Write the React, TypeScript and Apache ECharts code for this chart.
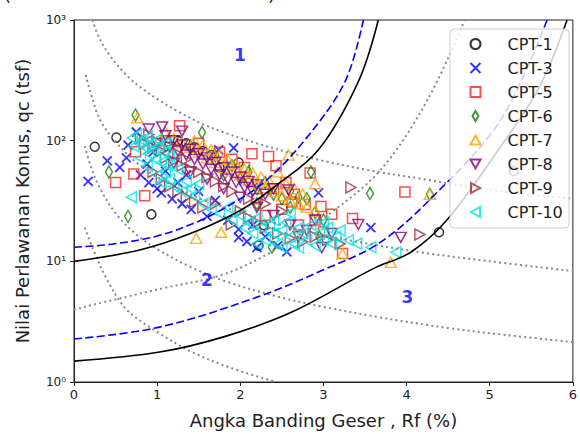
import React, { useEffect, useRef } from 'react';
import * as echarts from 'echarts';

const FONT = 'DejaVu Sans';

const seriesNames = ['CPT-1', 'CPT-3', 'CPT-5', 'CPT-6', 'CPT-7', 'CPT-8', 'CPT-9', 'CPT-10'];
const seriesColors = ['#000000', '#0000ff', '#ff2020', '#108010', '#ffa500', '#800080', '#a0283c', '#00e5e5'];

const xTicks = [0, 1, 2, 3, 4, 5, 6];
const yTickLabels = ['10⁰', '10¹', '10²', '10³'];

// [Rf (%), qc (tsf)]
const cpt1 = [[0.25,89],[0.51,106],[0.93,24.5],[1.35,95],[1.45,88],[1.55,82],[1.65,76],[1.98,66],[1.25,100],[2.28,20],[2.22,13.5],[4.39,17.4],[5.29,56],[1.75,60],[2.1,45]];
const cpt3 = [[0.17,46],[0.4,68],[0.55,60],[0.63,72],[0.65,92],[0.75,118],[0.8,52],[0.88,64],[0.9,45],[0.95,80],[1.0,40],[1.05,37],[1.1,56],[1.18,33],[1.25,45],[1.3,30],[1.35,52],[1.41,27],[1.5,38],[1.6,23.6],[1.7,32],[1.74,84],[1.92,87],[1.98,18.4],[1.98,15.8],[2.08,14.6],[2.15,20],[2.3,16],[2.45,13.5],[2.56,12],[2.94,37],[3.57,19],[1.85,22],[2.2,13]];
const cpt5 = [[0.5,45],[0.72,53],[0.74,81],[0.85,35],[1.27,133],[1.1,100],[1.5,95],[1.75,80],[2.14,78],[2.34,74],[2.43,62],[2.84,54],[2.78,29.6],[2.62,31],[2.97,28.5],[3.1,24.5],[3.35,22.6],[3.98,37.5],[3.23,11.6],[2.5,27],[2.2,33],[2.7,20],[3.0,17.5],[2.4,40],[2.55,45],[2.65,36],[2.9,22],[1.9,70],[2.05,60],[2.3,24]];
const cpt6 = [[0.74,163],[1.54,117],[0.42,55],[0.65,23.6],[1.4,90],[1.7,75],[1.9,62],[2.0,48],[2.1,55],[2.2,40],[2.3,45],[2.4,36],[2.5,33],[2.6,38],[2.7,34],[2.8,33],[2.85,55],[2.9,25.4],[3.0,22],[2.38,13.1],[3.56,36.5],[4.28,36],[2.2,30],[2.6,28],[1.8,52],[2.95,16]];
const cpt7 = [[0.76,155],[1.1,118],[1.2,104],[1.3,96],[1.4,88],[1.45,100],[1.5,80],[1.55,92],[1.6,72],[1.65,84],[1.7,66],[1.75,76],[1.8,60],[1.85,70],[1.9,56],[1.95,64],[2.0,52],[2.05,58],[2.1,47],[2.15,54],[2.2,44],[2.25,50],[2.3,41],[2.35,46],[2.4,38],[2.45,55],[2.5,35],[2.55,44],[2.58,76],[2.6,32],[2.65,40],[2.7,30],[2.75,36],[2.8,28],[2.9,26],[1.47,15.5],[1.77,17.4],[3.23,11.6],[3.81,9.8],[4.28,36],[2.9,44]];
const cpt8 = [[1.06,130],[1.0,95],[1.1,110],[1.15,88],[1.2,100],[1.25,82],[1.3,92],[1.35,76],[1.4,85],[1.45,70],[1.5,78],[1.55,64],[1.6,72],[1.65,58],[1.7,66],[1.75,52],[1.8,60],[1.85,48],[1.9,55],[1.95,45],[2.0,50],[2.05,41],[2.1,46],[2.15,38],[2.2,43],[2.3,36],[2.4,40],[2.58,39],[1.2,65],[1.4,55],[1.6,48],[1.8,40],[2.0,34],[2.2,28],[2.4,24],[2.6,20],[2.8,18],[2.98,13],[3.1,17],[3.42,20.2],[3.93,15.8],[0.9,125],[1.3,120],[2.7,16],[2.9,22]];
const cpt9 = [[0.8,105],[0.85,95],[0.9,112],[0.95,88],[1.0,98],[1.05,82],[1.1,72],[1.15,90],[1.2,68],[1.25,78],[1.3,62],[1.35,70],[1.4,58],[1.5,55],[1.6,50],[1.7,46],[1.8,42],[0.95,55],[1.05,48],[1.15,42],[1.25,38],[1.35,34],[1.45,31],[1.55,28],[1.7,30],[1.89,20.2],[2.0,26],[2.1,23],[2.2,21],[2.3,19],[2.45,17],[2.6,15.5],[2.75,14.5],[2.9,16],[3.05,15],[3.2,14],[3.33,41],[4.16,16.7],[1.9,38],[2.1,33],[2.3,30],[2.5,26]];
const cpt10 = [[0.70,105],[0.75,112],[0.78,95],[0.82,100],[0.85,88],[0.88,108],[0.9,78],[0.92,95],[0.95,85],[0.98,70],[1.0,102],[1.02,90],[1.05,66],[1.08,80],[1.1,95],[1.12,62],[1.15,75],[0.8,72],[0.88,62],[0.72,90],[1.0,52],[1.05,45],[1.1,55],[1.15,48],[1.2,42],[1.25,58],[1.3,38],[1.35,46],[1.4,40],[1.45,35],[1.5,44],[0.69,34],[1.55,30],[1.65,27],[1.75,25],[1.85,28],[1.9,22],[2.0,24],[2.05,19],[2.1,21],[2.15,17],[2.2,23],[2.25,19],[2.3,15],[2.35,20],[2.4,17],[2.45,14],[2.5,18],[2.55,21],[2.6,16],[2.65,14],[2.7,19],[2.75,17],[2.8,15],[2.85,20],[2.9,13.5],[2.95,17],[3.0,15],[3.05,19],[3.1,14],[3.15,16],[3.2,18],[3.3,15],[3.4,14],[3.57,13.1],[3.87,11.9],[2.4,22],[2.6,25],[2.2,14],[2.5,13],[2.7,13],[3.0,21]];

const seriesData = [cpt1, cpt3, cpt5, cpt6, cpt7, cpt8, cpt9, cpt10];

// Zone boundaries
const upperSolid = [[0,10],[0.79,12.4],[1.43,17.3],[2.02,26.9],[2.42,41.9],[2.94,84],[3.42,309],[3.66,1000]];
const upperDashed = [[0,13.1],[0.43,13.8],[1.0,16.2],[1.5,21.5],[1.9,30],[2.3,46],[2.78,102],[3.26,309],[3.48,1000]];
const lowerSolid = [[0,1.49],[1.03,1.77],[1.83,2.4],[2.62,3.8],[3.6,8.7],[4.05,11.9],[4.49,22.2],[5.13,89],[5.6,280],[5.93,1000]];
const lowerDashed = [[0,2.27],[1.03,2.85],[2.22,5.1],[3.0,8.5],[3.66,14],[4.29,33],[5.13,148],[5.69,1000]];

// Dotted guide curves
const dotA = [[0.22,1000],[0.3,720],[0.43,510],[0.63,350],[0.82,270],[1.03,215],[1.25,175],[1.54,138],[1.82,116],[2.2,95],[2.58,80],[3.0,68],[3.54,57],[4.2,48],[5.0,39],[6.0,33]];
const dotB = [[0.14,350],[0.2,250],[0.31,150],[0.5,98],[0.75,66],[1.0,50],[1.5,33.5],[2.0,25.5],[2.5,20],[3.0,16.5],[3.54,14],[4.2,11.8],[5.0,10],[6.0,8.3]];
const dotE = [[0.13,90],[0.2,62],[0.3,42],[0.5,25],[0.75,16.7],[1.0,12.6],[1.4,9],[1.83,6.8],[2.5,5],[3.0,4.2],[3.66,3.45],[4.5,2.8],[5.2,2.45],[6.0,2.14]];
const dotF = [[0.13,19],[0.23,12.6],[0.4,7],[0.63,4.0],[1.0,2.6],[1.42,1.77],[1.9,1.3],[2.43,1.0]];
const dotC = [[0,4],[1.03,5.9],[1.8,7.8],[2.43,12.6],[3.06,24.4],[3.69,57.6],[4.25,217],[4.7,1000]];

const zoneLabels = ['1', '2', '3'];
const zoneLabelPos = [[1.995, 514], [1.6, 7.0], [4.01, 5.1]];

const X_PATH = 'path://M0,0L10,10M0,10L10,0';
const THIN_DIAMOND = 'path://M3,0L6,5L3,10L0,5Z';
const TRI_UP = 'path://M5,0L10,9L0,9Z';
const TRI_DOWN = 'path://M0,0L10,0L5,9Z';
const TRI_RIGHT = 'path://M0,0L9,5L0,10Z';
const TRI_LEFT = 'path://M9,0L0,5L9,10Z';
const symbols = ['circle', X_PATH, 'rect', THIN_DIAMOND, TRI_UP, TRI_DOWN, TRI_RIGHT, TRI_LEFT];
const symbolSizes: any[] = [9, 9, 10, [7, 12], [11, 10], [11, 10], [10, 11], [10, 11]];

function mkLine(data: number[][], color: string, type: any, width: number) {
  return {
    type: 'line',
    data,
    symbol: 'none',
    showSymbol: false,
    smooth: 0.35,
    silent: true,
    z: 3,
    legendHoverLink: false,
    lineStyle: { color, type, width },
  };
}

export default function App() {
  const ref = useRef<HTMLDivElement>(null);
  useEffect(() => {
    document.body.style.margin = '0';
    const chart = echarts.init(ref.current!, null, { renderer: 'svg' });
    const scatterSeries = seriesNames.map((name, i) => ({
      type: 'scatter',
      name,
      data: seriesData[i],
      symbol: symbols[i],
      symbolSize: symbolSizes[i],
      z: 2,
      itemStyle: { color: 'none', borderColor: seriesColors[i], borderWidth: i === 1 ? 1.8 : 1.5 },
    }));
    const dotted = [2, 3.2];
    const option: any = {
      animation: false,
      grid: { left: 74, right: 4, top: 20, bottom: 51, show: true, borderColor: '#222', borderWidth: 1, backgroundColor: '#fff' },
      xAxis: {
        type: 'value', min: 0, max: 6, interval: 1,
        name: 'Angka Banding Geser , Rf (%)', nameLocation: 'middle', nameGap: 29,
        nameTextStyle: { fontFamily: FONT, fontSize: 18, color: '#222' },
        axisLine: { show: true, lineStyle: { color: '#222', width: 1 } },
        axisTick: { show: true, inside: false, length: 4, lineStyle: { color: '#222' } },
        axisLabel: { fontFamily: FONT, fontSize: 13, color: '#222', margin: 6, formatter: (v: number) => String(xTicks[Math.round(v)] ?? v) },
        splitLine: { show: false },
      },
      yAxis: {
        type: 'log', logBase: 10, min: 1, max: 1000,
        name: 'Nilai Perlawanan Konus, qc (tsf)', nameLocation: 'middle', nameGap: 43,
        nameTextStyle: { fontFamily: FONT, fontSize: 18, color: '#222' },
        axisLine: { show: true, lineStyle: { color: '#222', width: 1 } },
        axisTick: { show: true, inside: false, length: 4, lineStyle: { color: '#222' } },
        axisLabel: { fontFamily: FONT, fontSize: 12, color: '#222', margin: 8, formatter: (v: number) => yTickLabels[Math.round(Math.log10(v))] },
        splitLine: { show: false },
        minorTick: { show: false },
      },
      legend: {
        data: seriesNames,
        orient: 'vertical',
        left: 468, top: 36,
        padding: 0,
        itemWidth: 10, itemHeight: 10, itemGap: 8,
        selectedMode: false,
        z: 10,
        textStyle: { fontFamily: FONT, fontSize: 16, color: '#222', padding: [0, 0, 0, 22] },
      },
      graphic: {
        elements: [
          { type: 'rect', z: 9, silent: true, shape: { x: 450, y: 29, width: 119, height: 199, r: 4 }, style: { fill: 'rgba(255,255,255,0.8)', stroke: '#cfcfcf', lineWidth: 1 } },
          { type: 'text', x: 4, y: -15, silent: true, style: { text: '(', fontSize: 18, fontFamily: FONT, fill: '#222' } },
          { type: 'text', x: 268, y: -15, silent: true, style: { text: ')', fontSize: 18, fontFamily: FONT, fill: '#222' } },
        ],
      },
      series: [
        ...scatterSeries,
        mkLine(dotA, '#888', dotted, 2),
        mkLine(dotB, '#888', dotted, 2),
        mkLine(dotE, '#888', dotted, 2),
        mkLine(dotF, '#888', dotted, 2),
        mkLine(dotC, '#888', dotted, 2),
        mkLine(upperSolid, '#000', 'solid', 1.6),
        mkLine(lowerSolid, '#000', 'solid', 1.6),
        mkLine(upperDashed, '#0000ff', [8, 3.5], 1.6),
        mkLine(lowerDashed, '#0000ff', [8, 3.5], 1.6),
        {
          type: 'scatter',
          silent: true,
          symbolSize: 1,
          itemStyle: { color: 'rgba(0,0,0,0)' },
          z: 4,
          data: zoneLabelPos.map((p, i) => ({ value: p, name: zoneLabels[i] })),
          label: { show: true, position: 'inside', formatter: '{b}', fontFamily: FONT, fontSize: 17, fontWeight: 'bold', color: '#0000ff' },
        },
      ],
    };
    chart.setOption(option);
    return () => chart.dispose();
  }, []);
  return <div ref={ref} style={{ width: 580, height: 434 }} />;
}
